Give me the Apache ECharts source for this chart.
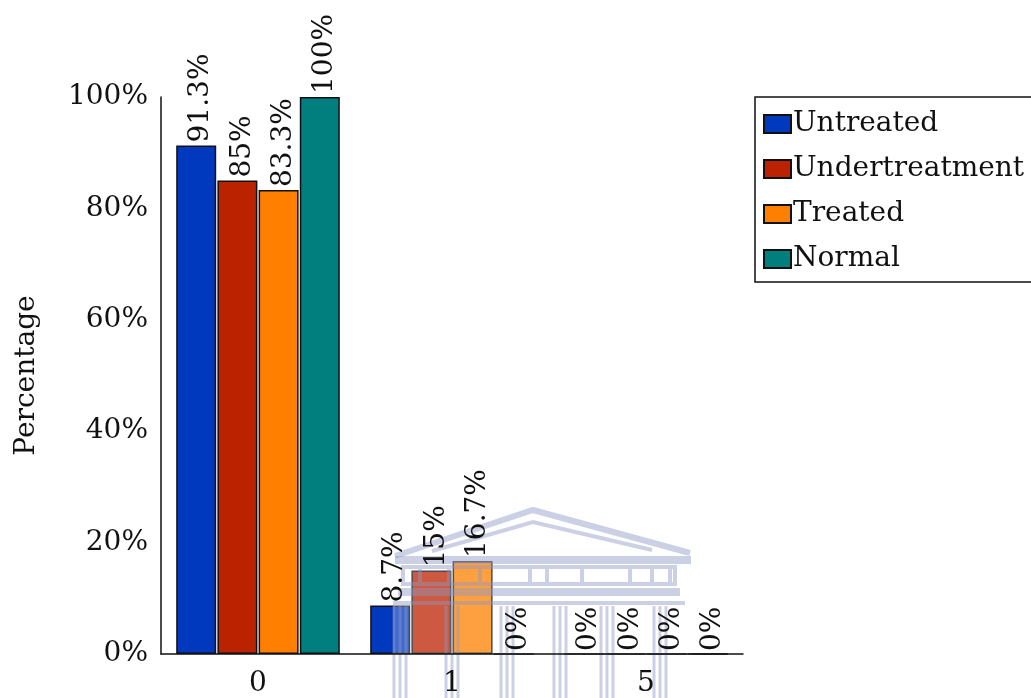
<!DOCTYPE html>
<html>
<head>
<meta charset="utf-8">
<script src="https://cdn.jsdelivr.net/npm/echarts@6/dist/echarts.min.js"></script>
<style>
  html, body { margin: 0; padding: 0; background: #fff; }
  #chart { width: 1031px; height: 698px; }
</style>
</head>
<body>
<div id="chart"></div>
<script>
// Number of affected teeth per group, as a percentage of each group
const categories = ['0', '1', '5'];
const untreated = [91.3, 8.7, 0];
const undertreatment = [85, 15, 0];
const treated = [83.3, 16.7, 0];
const normal = [100, 0, 0];
const yTicks = [0, 20, 40, 60, 80, 100];

const FONT = 'DejaVu Serif';
const FONT_SIZE = 28;

const seriesDefs = [
  { name: 'Untreated', data: untreated, color: '#0038BE' },
  { name: 'Undertreatment', data: undertreatment, color: '#BB2200' },
  { name: 'Treated', data: treated, color: '#FF8000' },
  { name: 'Normal', data: normal, color: '#007F7E' }
];

// Faint building emblem laid over the bars (below axes and value labels)
const emblemColor = '#8c96c4';
const lineOpacity = 0.45;
const emblem = [
  { type: 'polygon', shape: { points: [[393, 560], [533, 508], [692, 556], [692, 698], [393, 698]] }, style: { fill: '#ffffff', opacity: 0.25 } },
  { type: 'polyline', shape: { points: [[395, 556], [533, 510], [690, 553]] }, style: { stroke: emblemColor, lineWidth: 6, fill: null, opacity: lineOpacity } },
  { type: 'polyline', shape: { points: [[432, 551], [533, 522], [652, 550]] }, style: { stroke: emblemColor, lineWidth: 4, fill: null, opacity: lineOpacity } },
  { type: 'rect', shape: { x: 395, y: 556, width: 296, height: 8 }, style: { fill: emblemColor, opacity: lineOpacity } },
  { type: 'rect', shape: { x: 403, y: 567, width: 272, height: 17 }, style: { stroke: emblemColor, lineWidth: 4, fill: null, opacity: lineOpacity } },
  { type: 'rect', shape: { x: 398, y: 588, width: 282, height: 8 }, style: { fill: emblemColor, opacity: lineOpacity } },
  { type: 'rect', shape: { x: 393, y: 601, width: 292, height: 4 }, style: { fill: emblemColor, opacity: lineOpacity } }
];
[418, 447, 478, 528, 545, 580, 628, 650, 668].forEach(function (x) {
  emblem.push({ type: 'rect', shape: { x: x, y: 569, width: 4, height: 13 }, style: { fill: emblemColor, opacity: lineOpacity } });
});
[400, 452, 507, 560, 607, 660].forEach(function (cx) {
  [-6, 0, 6].forEach(function (d) {
    emblem.push({ type: 'line', shape: { x1: cx + d, y1: 606, x2: cx + d, y2: 698 }, style: { stroke: emblemColor, lineWidth: 3, opacity: lineOpacity } });
  });
});
emblem.forEach(function (e) { e.z = 100; e.zlevel = 0; e.silent = true; });

// Rotated value labels; offset is in the label's own (rotated) frame
const valueLabel = {
  show: true,
  position: 'top',
  rotate: 90,
  align: 'left',
  verticalAlign: 'middle',
  distance: 1,
  offset: [2, 5],
  formatter: '{c}%',
  fontFamily: FONT,
  fontSize: FONT_SIZE,
  color: '#111'
};

// Coloured bars
const barSeries = seriesDefs.map(function (s) {
  return {
    name: s.name,
    type: 'bar',
    data: s.data,
    xAxisIndex: 0,
    barWidth: 40,
    barGap: '3%',
    itemStyle: { color: s.color, borderColor: '#111', borderWidth: 1.5 },
    label: { show: false }
  };
});

// Value labels, laid out on an identical hidden axis so they sit above the emblem
const labelSeries = seriesDefs.map(function (s) {
  return {
    name: s.name + ' values',
    type: 'bar',
    data: s.data,
    xAxisIndex: 1,
    barWidth: 40,
    barGap: '3%',
    z: 150,
    silent: true,
    itemStyle: { color: 'rgba(0,0,0,0)', borderWidth: 0 },
    label: valueLabel
  };
});

const chart = echarts.init(document.getElementById('chart'), null, { renderer: 'canvas' });

chart.setOption({
  backgroundColor: '#ffffff',
  animation: false,
  textStyle: { fontFamily: FONT },
  grid: { left: 161, right: 288, top: 97, bottom: 43, containLabel: false },
  legend: {
    orient: 'vertical',
    left: 755,
    top: 97,
    padding: [12, 30, 8, 8],
    itemGap: 15,
    itemWidth: 27,
    itemHeight: 18,
    borderColor: '#111',
    borderWidth: 1.5,
    borderRadius: 0,
    icon: 'rect',
    textStyle: { fontFamily: FONT, fontSize: FONT_SIZE, color: '#111', lineHeight: 30, padding: [0, 0, 0, -3] },
    data: seriesDefs.map(function (s) { return s.name; })
  },
  xAxis: [{
    type: 'category',
    data: categories,
    z: 150,
    axisLine: { show: true, lineStyle: { color: '#111', width: 1.5 } },
    axisTick: { show: false },
    axisLabel: { fontFamily: FONT, fontSize: FONT_SIZE, color: '#111', margin: 16 },
    splitLine: { show: false }
  }, {
    type: 'category',
    data: categories,
    show: false
  }],
  yAxis: {
    type: 'value',
    min: yTicks[0],
    max: yTicks[yTicks.length - 1],
    interval: yTicks[1] - yTicks[0],
    name: 'Percentage',
    nameLocation: 'middle',
    nameGap: 120,
    nameTextStyle: { fontFamily: FONT, fontSize: FONT_SIZE, color: '#111' },
    axisLine: { show: true, lineStyle: { color: '#111', width: 1.5 } },
    axisTick: { show: false },
    axisLabel: { fontFamily: FONT, fontSize: FONT_SIZE, color: '#111', margin: 13, formatter: '{value}%' },
    splitLine: { show: false }
  },
  series: barSeries.concat(labelSeries),
  graphic: { elements: emblem }
});
</script>
</body>
</html>
